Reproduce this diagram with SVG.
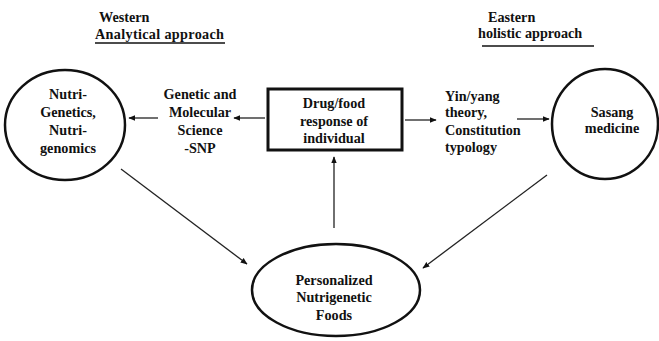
<svg xmlns="http://www.w3.org/2000/svg" width="659" height="341" viewBox="0 0 659 341">
<style>
text{font-family:'Liberation Serif','DejaVu Serif',serif;font-weight:700;font-size:14.2px;fill:#111}
.c{text-anchor:middle}
.n{fill:#fff;stroke:#111;stroke-width:2.5}
.e{stroke:#222;stroke-width:1.3;fill:none}
</style>
<defs>
<marker id="ah" viewBox="0 0 10 10" refX="9" refY="5" markerWidth="7" markerHeight="7" markerUnits="userSpaceOnUse" orient="auto"><path d="M0,1 L10,5 L0,9 z" fill="#111"/></marker>
</defs>
<g id="titles">
<text x="99" y="22">Western</text>
<text x="95" y="39" textLength="129">Analytical approach</text>
<line x1="95" y1="43" x2="225" y2="43" stroke="#111" stroke-width="1.5"/>
<text x="488" y="22">Eastern</text>
<text x="478" y="38">holistic approach</text>
<line x1="482" y1="46" x2="594" y2="46" stroke="#111" stroke-width="1.5"/>
</g>
<g id="connectors">
<line class="e" x1="265" y1="118" x2="234" y2="118" marker-end="url(#ah)"/>
<line class="e" x1="158" y1="118" x2="129" y2="118" marker-end="url(#ah)"/>
<line class="e" x1="405" y1="120" x2="436" y2="120" marker-end="url(#ah)"/>
<line class="e" x1="517" y1="119" x2="549" y2="119" marker-end="url(#ah)"/>
<line class="e" x1="334" y1="228" x2="334" y2="157" marker-end="url(#ah)"/>
<line class="e" x1="121" y1="169" x2="247" y2="264" marker-end="url(#ah)"/>
<line class="e" x1="547" y1="175" x2="423" y2="268" marker-end="url(#ah)"/>
</g>
<g id="nutrigenetics">
<ellipse class="n" cx="65" cy="125" rx="60" ry="55"/>
<text class="c" x="68" y="99">Nutri-</text>
<text class="c" x="68" y="117">Genetics,</text>
<text class="c" x="68" y="135">Nutri-</text>
<text class="c" x="68" y="153">genomics</text>
</g>
<g id="genetic">
<text class="c" x="200" y="99">Genetic and</text>
<text class="c" x="200" y="117">Molecular</text>
<text class="c" x="200" y="135">Science</text>
<text class="c" x="200" y="153">-SNP</text>
</g>
<g id="drug">
<rect x="268" y="89" width="134" height="61" fill="#fff" stroke="#111" stroke-width="3"/>
<text class="c" x="334" y="108">Drug/food</text>
<text class="c" x="334" y="126">response of</text>
<text class="c" x="334" y="143">individual</text>
</g>
<g id="yinyang">
<text x="445" y="101">Yin/yang</text>
<text x="445" y="117">theory,</text>
<text x="445" y="135">Constitution</text>
<text x="445" y="152">typology</text>
</g>
<g id="sasang">
<ellipse class="n" cx="605" cy="124" rx="53" ry="55"/>
<text class="c" x="612" y="117">Sasang</text>
<text class="c" x="612" y="133">medicine</text>
</g>
<g id="personalized">
<ellipse class="n" cx="336" cy="290" rx="84" ry="46"/>
<text class="c" x="334" y="285">Personalized</text>
<text class="c" x="334" y="302">Nutrigenetic</text>
<text class="c" x="334" y="320">Foods</text>
</g>
</svg>
